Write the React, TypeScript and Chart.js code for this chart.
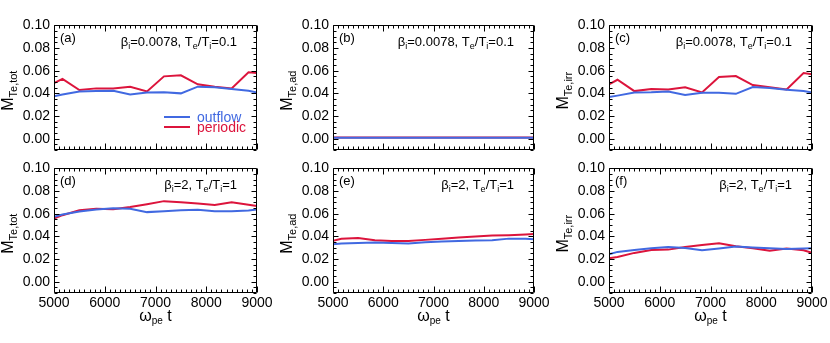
import React, { useEffect, useRef } from 'react';
import { Chart, registerables } from 'chart.js';

Chart.register(...registerables);

const FONT = "'Liberation Sans', Arial, Helvetica, sans-serif";
const BLUE = '#4169E1';
const RED = '#DC143C';

// ---------- data ----------
const timeSteps = [5000, 5167, 5500, 5833, 6167, 6500, 6833, 7167, 7500, 7833, 8167, 8500, 8833, 9000];

// (a) M_Te,tot, beta_i = 0.0078
const outflowTotLow = [0.0375, 0.039, 0.0417, 0.042, 0.0422, 0.039, 0.0408, 0.041, 0.040, 0.0459, 0.0453, 0.0438, 0.0423, 0.0408];
const periodicTotLow = [0.049, 0.0527, 0.0429, 0.0444, 0.0444, 0.0459, 0.0417, 0.055, 0.0559, 0.048, 0.0459, 0.0444, 0.0586, 0.058];
// (b) M_Te,ad, beta_i = 0.0078
const outflowAdLow = [0.0008, 0.0008, 0.0008, 0.0008, 0.0008, 0.0008, 0.0008, 0.0008, 0.0009, 0.0009, 0.0009, 0.0009, 0.0009, 0.0009];
const periodicAdLow = [0.0010, 0.0010, 0.0010, 0.0010, 0.0010, 0.0010, 0.0010, 0.0010, 0.0011, 0.0011, 0.0011, 0.0011, 0.0011, 0.0011];
// (c) M_Te,irr, beta_i = 0.0078
const outflowIrrLow = [0.0367, 0.038, 0.0408, 0.041, 0.0417, 0.0385, 0.0405, 0.0405, 0.0396, 0.0456, 0.0447, 0.0432, 0.042, 0.0408];
const periodicIrrLow = [0.048, 0.052, 0.042, 0.0438, 0.0435, 0.0453, 0.0408, 0.0544, 0.0553, 0.0473, 0.0453, 0.0435, 0.058, 0.0568];
// (d) M_Te,tot, beta_i = 2
const outflowTotHigh = [0.0572, 0.0593, 0.062, 0.0637, 0.0649, 0.0643, 0.0614, 0.0622, 0.063, 0.0634, 0.0622, 0.0622, 0.0628, 0.0637];
const periodicTotHigh = [0.0558, 0.0587, 0.063, 0.0643, 0.064, 0.066, 0.0684, 0.0711, 0.0702, 0.069, 0.0678, 0.070, 0.068, 0.0667];
// (e) M_Te,ad, beta_i = 2
const outflowAdHigh = [0.033, 0.0336, 0.0342, 0.0345, 0.0342, 0.0336, 0.0348, 0.0354, 0.036, 0.0363, 0.0366, 0.038, 0.038, 0.0375];
const periodicAdHigh = [0.036, 0.0378, 0.0386, 0.0366, 0.036, 0.036, 0.0369, 0.038, 0.039, 0.0398, 0.0407, 0.041, 0.0416, 0.042];
// (f) M_Te,irr, beta_i = 2
const outflowIrrHigh = [0.0242, 0.0263, 0.028, 0.0295, 0.0307, 0.0298, 0.0277, 0.0292, 0.031, 0.0301, 0.0295, 0.0289, 0.0292, 0.0295];
const periodicIrrHigh = [0.0206, 0.0218, 0.0254, 0.028, 0.0283, 0.0307, 0.0324, 0.0339, 0.0313, 0.0295, 0.0274, 0.0292, 0.0277, 0.0254];

const xTickValues = [5000, 6000, 7000, 8000, 9000];
const yTickValues = [0, 0.02, 0.04, 0.06, 0.08, 0.1];
const xMin = 5000;
const xMax = 9000;
const yMin = -0.01;
const yMax = 0.1;

const seriesNames = ['outflow', 'periodic'];
const panelLetters = ['(a)', '(b)', '(c)', '(d)', '(e)', '(f)'];
const ySubscripts = ['Te,tot', 'Te,ad', 'Te,irr', 'Te,tot', 'Te,ad', 'Te,irr'];
const outflowSeries = [outflowTotLow, outflowAdLow, outflowIrrLow, outflowTotHigh, outflowAdHigh, outflowIrrHigh];
const periodicSeries = [periodicTotLow, periodicAdLow, periodicIrrLow, periodicTotHigh, periodicAdHigh, periodicIrrHigh];

type Seg = { t: string; sub?: boolean };
const annotationLow: Seg[] = [
  { t: 'β' }, { t: 'i', sub: true }, { t: '=0.0078, T' }, { t: 'e', sub: true },
  { t: '/T' }, { t: 'i', sub: true }, { t: '=0.1' },
];
const annotationHigh: Seg[] = [
  { t: 'β' }, { t: 'i', sub: true }, { t: '=2, T' }, { t: 'e', sub: true },
  { t: '/T' }, { t: 'i', sub: true }, { t: '=1' },
];

// ---------- layout ----------
const colLeft = [54, 333, 609];
const colRight = [257, 534, 812];
const rowTop = [25, 168];
const rowBottom = [150, 293];
const Y_AXIS_W = 54;
const X_AXIS_H = 50;
const PAD_TOP = 12;

function drawSegs(ctx: CanvasRenderingContext2D, segs: Seg[], x: number, y: number, size: number, subSize: number, subDrop: number, align: 'left' | 'right' | 'center') {
  const widths = segs.map((s) => {
    ctx.font = `${s.sub ? subSize : size}px ${FONT}`;
    return ctx.measureText(s.t).width;
  });
  const total = widths.reduce((p, c) => p + c, 0);
  let cx = align === 'left' ? x : align === 'right' ? x - total : x - total / 2;
  ctx.textAlign = 'left';
  ctx.textBaseline = 'alphabetic';
  segs.forEach((s, i) => {
    ctx.font = `${s.sub ? subSize : size}px ${FONT}`;
    ctx.fillText(s.t, cx, y + (s.sub ? subDrop : 0));
    cx += widths[i];
  });
}

function makePlugin(idx: number) {
  const row = Math.floor(idx / 3);
  return {
    id: 'panelDecor' + idx,
    afterDatasetsDraw(chart: any) {
      const { ctx, chartArea: a, scales } = chart;
      const xs = scales.x;
      const ys = scales.y;
      ctx.save();
      ctx.strokeStyle = '#000';
      ctx.lineWidth = 1;
      const l = Math.round(a.left) + 0.5;
      const r = Math.round(a.right) - 0.5;
      const t = Math.round(a.top) + 0.5;
      const b = Math.round(a.bottom) - 0.5;
      ctx.beginPath();
      ctx.rect(l, t, r - l, b - t);
      // x ticks (major every 1000, minor every 100)
      for (let v = xMin; v <= xMax; v += 100) {
        const px = Math.round(xs.getPixelForValue(v)) + 0.5;
        const len = v % 1000 === 0 ? 6 : 3;
        ctx.moveTo(px, b);
        ctx.lineTo(px, b - len);
        ctx.moveTo(px, t);
        ctx.lineTo(px, t + len);
      }
      // y ticks (major every 0.02, minor every 0.005)
      for (let k = -2; k <= 20; k++) {
        const v = k * 0.005;
        const py = Math.round(ys.getPixelForValue(v)) + 0.5;
        const len = k % 4 === 0 ? 5 : 3;
        ctx.moveTo(l, py);
        ctx.lineTo(l + len, py);
        ctx.moveTo(r, py);
        ctx.lineTo(r - len, py);
      }
      ctx.stroke();
      ctx.restore();
    },
    afterDraw(chart: any) {
      const { ctx, chartArea: a } = chart;
      ctx.save();
      ctx.fillStyle = '#000';
      // panel letter
      ctx.font = `13px ${FONT}`;
      ctx.textAlign = 'left';
      ctx.textBaseline = 'alphabetic';
      ctx.fillText(panelLetters[idx], a.left + 6, a.top + 17);
      // parameter annotation
      drawSegs(ctx, row === 0 ? annotationLow : annotationHigh, a.right - 20, a.top + 21, 13, 9, 3, 'right');
      // y axis title
      ctx.save();
      ctx.translate(a.left - 41, (a.top + a.bottom) / 2 + 3);
      ctx.rotate(-Math.PI / 2);
      drawSegs(ctx, [{ t: 'M' }, { t: ySubscripts[idx], sub: true }], 0, 0, 16, 11, 4, 'center');
      ctx.restore();
      // x axis title
      if (row === 1) {
        drawSegs(ctx, [{ t: 'ω' }, { t: 'pe', sub: true }, { t: ' t' }], (a.left + a.right) / 2, a.bottom + 28, 16, 10, 3, 'center');
      }
      // legend (panel a)
      if (idx === 0) {
        const items = [
          { name: seriesNames[0], color: BLUE, dy: -33 },
          { name: seriesNames[1], color: RED, dy: -23 },
        ];
        items.forEach((it) => {
          ctx.strokeStyle = it.color;
          ctx.lineWidth = 2;
          ctx.beginPath();
          ctx.moveTo(a.right - 93, a.bottom + it.dy);
          ctx.lineTo(a.right - 67, a.bottom + it.dy);
          ctx.stroke();
          ctx.fillStyle = it.color;
          ctx.font = `14px ${FONT}`;
          ctx.textAlign = 'left';
          ctx.fillText(it.name, a.right - 60, a.bottom + it.dy + 5);
        });
      }
      ctx.restore();
    },
  };
}

function Panel({ idx }: { idx: number }) {
  const ref = useRef<HTMLCanvasElement>(null);
  const row = Math.floor(idx / 3);
  const col = idx % 3;
  const L = colLeft[col];
  const R = colRight[col];
  const T = rowTop[row];
  const B = rowBottom[row];
  const padR = Math.min(20, 830 - R);
  const W = R - L + Y_AXIS_W + padR;
  const H = PAD_TOP + (B - T) + X_AXIS_H;
  const left = L - Y_AXIS_W;
  const top = T - PAD_TOP;

  useEffect(() => {
    if (!ref.current) return;
    const chart = new Chart(ref.current, {
      type: 'line',
      data: {
        datasets: [
          {
            label: seriesNames[0],
            data: timeSteps.map((x, i) => ({ x, y: outflowSeries[idx][i] })),
            borderColor: BLUE,
            backgroundColor: BLUE,
            borderWidth: 2,
            pointRadius: 0,
            tension: 0,
            fill: false,
          },
          {
            label: seriesNames[1],
            data: timeSteps.map((x, i) => ({ x, y: periodicSeries[idx][i] })),
            borderColor: RED,
            backgroundColor: RED,
            borderWidth: 2,
            pointRadius: 0,
            tension: 0,
            fill: false,
          },
        ],
      },
      options: {
        responsive: false,
        animation: false,
        devicePixelRatio: 1,
        layout: { padding: { top: PAD_TOP, right: padR, left: 0, bottom: 0 } },
        plugins: { legend: { display: false }, tooltip: { enabled: false } },
        scales: {
          x: {
            type: 'linear',
            min: xMin,
            max: xMax,
            grid: { display: false, drawTicks: false },
            border: { display: false },
            afterBuildTicks: (s: any) => {
              s.ticks = xTickValues.map((v) => ({ value: v }));
            },
            afterFit: (s: any) => {
              s.height = X_AXIS_H;
            },
            ticks: {
              display: row === 1,
              autoSkip: false,
              maxRotation: 0,
              padding: 2,
              color: '#000',
              font: { family: FONT, size: 14 },
              callback: (v: any) => String(v),
            },
          },
          y: {
            type: 'linear',
            min: yMin,
            max: yMax,
            grid: { display: false, drawTicks: false },
            border: { display: false },
            afterBuildTicks: (s: any) => {
              s.ticks = yTickValues.map((v) => ({ value: v }));
            },
            afterFit: (s: any) => {
              s.width = Y_AXIS_W;
            },
            ticks: {
              autoSkip: false,
              padding: 4,
              color: '#000',
              font: { family: FONT, size: 14 },
              callback: (v: any) => Number(v).toFixed(2),
            },
          },
        },
      } as any,
      plugins: [makePlugin(idx) as any],
    });
    return () => chart.destroy();
  }, []);

  return (
    <canvas
      ref={ref}
      width={W}
      height={H}
      style={{ position: 'absolute', left, top, width: W, height: H }}
    />
  );
}

export default function App() {
  return (
    <div style={{ position: 'absolute', left: 0, top: 0, width: 830, height: 343, background: '#fff', overflow: 'hidden' }}>
      {[0, 1, 2, 3, 4, 5].map((i) => (
        <Panel key={i} idx={i} />
      ))}
    </div>
  );
}
